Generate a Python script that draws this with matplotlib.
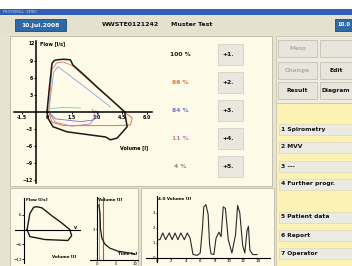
import matplotlib.pyplot as plt
from matplotlib.patches import Rectangle

# ---- data ----
# main flow-volume loops (volume [l], flow [l/s])
best_exp_v = [0.0, 0.15, 0.3, 0.45, 0.6, 1.0, 1.4, 1.55, 2.2, 3.0, 3.8, 4.4, 4.65]
best_exp_f = [0.0, 4.5, 8.6, 9.1, 9.2, 9.3, 9.2, 8.3, 6.6, 4.4, 2.3, 0.7, 0.0]
best_ins_v = [4.65, 4.8, 4.2, 3.8, 3.5, 1.2, 0.36, 0.06, 0.0]
best_ins_f = [0.0, -2.6, -4.6, -4.9, -4.4, -3.5, -2.6, -1.1, 0.0]

t2_exp_v = [0.1, 0.3, 0.6, 1.0, 1.5, 3.0, 4.2, 4.6]
t2_exp_f = [0.0, 7.5, 8.7, 8.8, 8.2, 4.3, 1.2, 0.0]
t2_ins_v = [4.6, 5.1, 5.0, 4.0, 1.0, 0.3, 0.1]
t2_ins_f = [0.0, -1.0, -2.3, -2.4, -2.4, -1.8, 0.0]

t3_exp_v = [0.1, 0.4, 0.65, 2.0, 3.8]
t3_exp_f = [0.0, 7.0, 8.0, 5.0, 0.9]
t3_ins_v = [0.1, 0.5, 2.0, 2.8, 3.1, 2.9]
t3_ins_f = [0.0, -1.2, -1.7, -1.4, -0.3, 0.2]

t4_ins_v = [0.1, 0.5, 1.5, 2.6, 2.9, 2.7]
t4_ins_f = [0.0, -1.8, -2.5, -2.1, -0.6, 0.5]

t5_v = [0.2, 1.0, 2.0]
t5_f = [0.6, 0.8, 0.7]

trial_pct = ["100 %", "86 %", "84 %", "11 %", "4 %"]
trial_col = ["#1a1a1a", "#e8743c", "#6f6fc8", "#c87aa8", "#8a8a8a"]
trial_btn = ["+1.", "+2.", "+3.", "+4.", "+5."]

main_xticks = [-1.5, 0, 1.5, 3.0, 4.5, 6.0]
main_yticks = [-12, -9, -6, -3, 3, 6, 9]

# small loop (bottom left)
sl_v = [0.3, 0.6, 1.0, 1.3, 1.9, 3.0, 4.0, 4.9, 5.1, 4.7, 2.2, 0.6, 0.3]
sl_f = [0.0, 6.5, 9.0, 9.3, 8.8, 5.5, 2.8, 0.0, -2.4, -4.4, -4.0, -2.8, 0.0]

# volume-time washout (bottom left, second)
vt_t = [0.5, 0.8, 0.9, 1.3, 2.1, 3.4, 5.5, 8.7, 10.0]
vt_v = [5.5, 4.6, 3.1, 2.1, 1.5, 1.1, 0.8, 0.6, 0.5]
vt_mark = 1.6

# MVV trace (bottom middle)
mvv_t = [0.1, 0.4, 0.8, 1.2, 1.7, 2.1, 2.5, 2.9, 3.3, 3.8, 4.2, 4.6, 5.0, 5.6,
         6.0, 6.3, 6.5, 6.8, 7.1, 7.3, 7.5, 7.9, 8.2, 8.6, 8.9, 9.2, 9.5, 9.9,
         10.4, 10.9, 11.2, 11.5, 11.9, 12.2, 12.5, 12.7, 12.9, 13.3, 13.9]
mvv_v = [1.2, 1.2, 1.65, 1.2, 1.65, 1.2, 1.65, 1.2, 1.65, 1.2, 1.65, 1.3, 0.2, 0.15,
         0.3, 1.9, 3.4, 3.55, 2.9, 0.9, 0.25, 0.2, 1.3, 1.7, 1.4, 3.4, 3.3, 1.2,
         0.3, 1.5, 3.5, 3.0, 0.8, 0.3, 1.8, 2.1, 0.5, 0.2, 0.2]
mvv_xticks = [0, 2, 4, 6, 8, 10, 12, 14]
mvv_yticks = [0, 1, 2, 3]

menu_items = ["1 Spirometry", "2 MVV", "3 ---", "4 Further progr.",
              "5 Patient data", "6 Report", "7 Operator"]
menu_y = [129, 147, 166, 184, 217, 235, 253]

# ---- figure ----
fig = plt.figure(figsize=(3.52, 2.66), dpi=100)
fig.patch.set_facecolor("#e6e3d3")
bg = fig.add_axes([0, 0, 1, 1])
bg.set_xlim(0, 352)
bg.set_ylim(266, 0)
bg.axis("off")


def box(x, y, w, h, fc, ec="none", lw=0.6):
    bg.add_patch(Rectangle((x, y), w, h, facecolor=fc, edgecolor=ec, lw=lw))


def txt(x, y, s, size=4.5, color="#111111", ha="left", weight="bold"):
    bg.text(x, y, s, fontsize=size, color=color, ha=ha, va="center",
            fontweight=weight)


# window chrome
box(0, 0, 352, 9, "#ffffff")
box(0, 9, 352, 6, "#2f5fb5")
txt(3, 12, "PROTOKOLL  SPIRO", size=2.5, color="#c8d6f0", weight="normal")
box(0, 15, 352, 19, "#e4e1cf")
box(15, 19, 51, 12, "#2f6aa6", "#1d4a80")
txt(40.5, 25, "10.Jul.2008", size=4.3, color="white", ha="center")
txt(130, 25, "WWSTE0121242", size=4.5, ha="center")
txt(192, 25, "Muster Test", size=4.5, ha="center")
box(335, 19, 20, 12, "#2f6aa6", "#1d4a80")
txt(337, 25, "10.0", size=3.8, color="white")

# panels
box(10, 36, 262, 150, "#fdfbe8", "#b9b6a4")
box(10, 188, 128, 78, "#fdfbe8", "#b9b6a4")
box(141, 188, 133, 78, "#fdfbe8", "#b9b6a4")
box(276, 36, 76, 67, "#eeece0", "#c9c6b6")
box(276, 103, 76, 163, "#fbf2b4", "#c9c6b6")

# right panel buttons
buttons = [("Mess", 278, 40, False), ("Change", 278, 62, False), ("Edit", 320, 62, True),
           ("Result", 278, 82, True), ("Diagram", 320, 82, True)]
for label, bx, by, active in buttons:
    box(bx, by, 39 if bx < 300 else 34, 17, "#e8e6dc", "#c4c1b3")
    txt(bx + (19.5 if bx < 300 else 16), by + 8.5, label, size=4.3,
        color="#111111" if active else "#b4b2a8", ha="center")
box(320, 40, 34, 17, "#e8e6dc", "#c4c1b3")

for label, my in zip(menu_items, menu_y):
    box(279, my - 5.5, 73, 11, "#ecebe2", "#d6d3c0", lw=0.4)
    txt(281, my, label, size=4.3)

# percent labels and trial buttons
for i, (p, c, b) in enumerate(zip(trial_pct, trial_col, trial_btn)):
    yy = 55 + 28 * i
    txt(180, yy, p, size=4.3, color=c, ha="center")
    box(218, yy - 11, 25, 21, "#e9e7de", "#cfccbf", lw=0.5)
    txt(222, yy, b, size=4.3)

# ---- main flow-volume chart ----
ax = fig.add_axes([0.0386, 0.3124, 0.3938, 0.5331])
ax.set_xlim(-2, 6.3)
ax.set_ylim(-12.5, 12.5)
ax.patch.set_alpha(0)
ax.plot(t5_v, t5_f, color="#7fc8b8", lw=0.6)
ax.plot(t4_ins_v, t4_ins_f, color="#c87aa8", lw=0.6)
ax.plot(t3_exp_v, t3_exp_f, color="#8ea0d8", lw=0.6)
ax.plot(t3_ins_v, t3_ins_f, color="#6f6fc8", lw=0.6)
ax.plot(t2_exp_v, t2_exp_f, color="#e08a7a", lw=0.7)
ax.plot(t2_ins_v, t2_ins_f, color="#e8743c", lw=0.7)
ax.plot(best_exp_v, best_exp_f, color="#1a1a1a", lw=1.1)
ax.plot(best_ins_v, best_ins_f, color="#1a1a1a", lw=1.1)
for s in ["top", "right"]:
    ax.spines[s].set_visible(False)
ax.spines["left"].set_position(("data", -0.65))
ax.spines["bottom"].set_position(("data", 0))
ax.spines["left"].set_linewidth(1.1)
ax.spines["bottom"].set_linewidth(1.1)
ax.set_xticks(main_xticks)
ax.set_xticklabels([f"{v:.1f}" if v else "0" for v in main_xticks])
ax.set_yticks(main_yticks)
ax.tick_params(labelsize=3.3, length=1.5, width=0.7, pad=0.8)
for lab in ax.get_xticklabels() + ax.get_yticklabels():
    lab.set_fontweight("bold")
ax.text(-0.75, 12.0, "12", fontsize=3.3, ha="right", va="center", fontweight="bold")
ax.text(-0.4, 12.0, "Flow [l/s]", fontsize=3.5, va="center", fontweight="bold")
ax.text(4.4, -6.2, "Volume [l]", fontsize=3.5, va="center", fontweight="bold")

# ---- small flow-volume loop ----
a2 = fig.add_axes([0.0426, 0.0113, 0.1847, 0.2444])
a2.set_xlim(-1, 6)
a2.set_ylim(-13.5, 12.8)
a2.patch.set_alpha(0)
a2.plot(sl_v, sl_f, color="#1a1a1a", lw=1.0)
for s in ["top", "right"]:
    a2.spines[s].set_visible(False)
a2.spines["left"].set_position(("data", 0))
a2.spines["bottom"].set_position(("data", 0))
a2.set_xticks([])
a2.set_yticks([-12, -6, 6])
a2.tick_params(labelsize=3.0, length=1.2, width=0.6, pad=0.6)
a2.text(0.2, 12.0, "Flow [l/s]", fontsize=3.0, va="center", fontweight="bold")
a2.text(3.0, -11.0, "Volume [l]", fontsize=3.0, va="center", fontweight="bold")
a2.text(5.3, 0.5, "V", fontsize=3.0, va="center", fontweight="bold")

# ---- small volume-time chart ----
a3 = fig.add_axes([0.2557, 0.0226, 0.1364, 0.2368])
a3.set_xlim(-1.84, 10.8)
a3.set_ylim(-0.1, 6.3)
a3.patch.set_alpha(0)
a3.axvline(vt_mark, color="#d9482b", lw=0.8)
a3.axvline(0.5, color="#9a9a9a", lw=0.6)
a3.plot(vt_t, vt_v, color="#1a1a1a", lw=0.9)
for s in ["top", "right"]:
    a3.spines[s].set_visible(False)
a3.spines["left"].set_position(("data", 0))
a3.set_xticks([0, 5, 10])
a3.set_yticks([3])
a3.tick_params(labelsize=2.8, length=1.0, width=0.6, pad=0.4)
a3.text(0.2, 6.0, "Volume [l]", fontsize=3.0, va="center", fontweight="bold")
a3.text(5.5, 0.5, "Time [s]", fontsize=3.0, va="center", fontweight="bold")

# ---- MVV trace ----
a4 = fig.add_axes([0.4148, 0.0150, 0.3523, 0.2481])
a4.set_xlim(-1.53, 15.7)
a4.set_ylim(-0.3, 4.13)
a4.patch.set_alpha(0)
a4.plot(mvv_t, mvv_v, color="#2a2a2a", lw=0.8)
for s in ["top", "right"]:
    a4.spines[s].set_visible(False)
a4.spines["left"].set_position(("data", 0))
a4.spines["bottom"].set_position(("data", 0))
a4.set_xticks(mvv_xticks)
a4.set_yticks(mvv_yticks)
a4.tick_params(labelsize=2.8, length=1.0, width=0.6, pad=0.4)
a4.text(0.1, 3.9, "4.0 Volume [l]", fontsize=3.0, va="center", fontweight="bold")

fig.savefig("out.png", dpi=100)
